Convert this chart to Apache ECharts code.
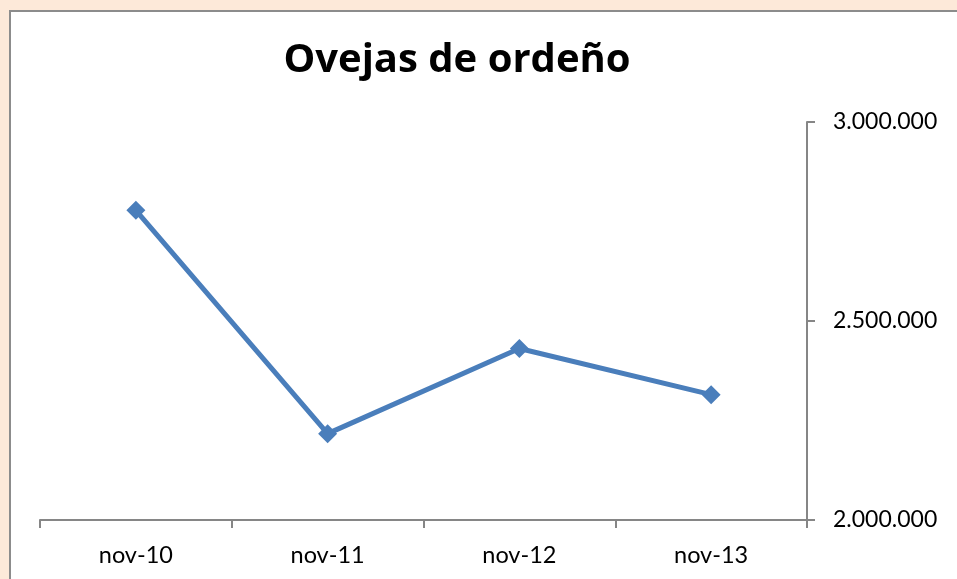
<!DOCTYPE html>
<html>
<head>
<meta charset="utf-8">
<script src="https://cdn.jsdelivr.net/npm/echarts@6/dist/echarts.min.js"></script>
<style>
  html, body { margin: 0; padding: 0; background: #fde9d9; overflow: hidden; }
  #frame {
    position: absolute; left: 9px; top: 10px; width: 1000px; height: 600px;
    background: #ffffff; border: 2px solid #8c8c8c; box-sizing: border-box;
  }
  #chart { position: absolute; left: 0; top: 0; width: 957px; height: 579px; }
</style>
</head>
<body>
<div id="frame"></div>
<div id="chart"></div>
<script>
const categories = ['nov-10', 'nov-11', 'nov-12', 'nov-13']
const ovejas = [2778000, 2217000, 2431000, 2315000]
const yMin = 2000000
const yMax = 3000000
const yStep = 500000

function fmt(v) {
    return String(Math.round(v)).replace(/\B(?=(\d{3})+(?!\d))/g, '.')
}

const chart = echarts.init(document.getElementById('chart'))

const option = {
    backgroundColor: 'transparent',
    animation: false,
    title: {
        text: 'Ovejas de ordeño',
        left: 452,
        top: 36,
        textAlign: 'center',
        textStyle: {
            fontFamily: 'Open Sans',
            fontWeight: 'bold',
            fontSize: 40,
            color: '#000'
        }
    },
    grid: { left: 40, right: 150, top: 122, bottom: 59 },
    xAxis: {
        type: 'category',
        data: categories,
        boundaryGap: true,
        axisLine: { lineStyle: { color: '#868686', width: 2 } },
        axisTick: { show: true, length: 8, lineStyle: { color: '#868686', width: 2 } },
        axisLabel: {
            margin: 23,
            fontFamily: 'Lato',
            fontSize: 23.5,
            color: '#000'
        }
    },
    yAxis: {
        type: 'value',
        position: 'right',
        min: yMin,
        max: yMax,
        interval: yStep,
        splitLine: { show: false },
        axisLine: { show: true, lineStyle: { color: '#868686', width: 2 } },
        axisTick: { show: true, length: 8, lineStyle: { color: '#868686', width: 2 } },
        axisLabel: {
            margin: 26,
            fontFamily: 'Lato',
            fontSize: 23,
            color: '#000',
            formatter: fmt
        }
    },
    series: [{
        type: 'line',
        data: ovejas,
        symbol: 'diamond',
        symbolSize: 19,
        lineStyle: { color: '#4a7ebb', width: 5 },
        itemStyle: { color: '#4a7ebb' }
    }]
}

chart.setOption(option)
</script>
</body>
</html>
